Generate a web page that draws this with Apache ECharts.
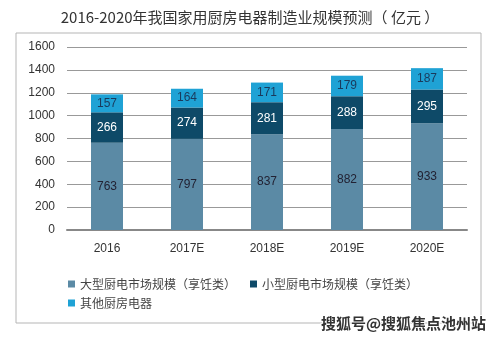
<!DOCTYPE html>
<html><head><meta charset="utf-8">
<script src="https://cdn.jsdelivr.net/npm/echarts@6/dist/echarts.min.js"></script>
<style>html,body{margin:0;padding:0;background:#fff}#c{width:500px;height:339px}</style>
</head><body><div id="c"></div>
<script>
const categories = ['2016','2017E','2018E','2019E','2020E'];
const largeKitchen = [763,797,837,882,933];
const smallKitchen = [266,274,281,288,295];
const otherKitchen = [157,164,171,179,187];
const seriesNames = ['大型厨电市场规模（享饪类）','小型厨电市场规模（享饪类）','其他厨房电器'];
const yTicks = [0,200,400,600,800,1000,1200,1400,1600];

const font = '"Microsoft YaHei","Noto Sans CJK SC",Arial,sans-serif';
const numFont = 'Arial, "Liberation Sans", sans-serif';
const chart = echarts.init(document.getElementById('c'));
const lbl = (color) => ({show:true, position:'inside', color:color, fontSize:12, fontFamily:numFont});
const legendBase = {left:68, itemWidth:7, itemHeight:7, icon:'rect', padding:0,
    textStyle:{fontSize:12, color:'#444', fontFamily:font}};
chart.setOption({
  animation:false,
  title:{text:'2016-2020年我国家用厨房电器制造业规模预测（ 亿元 ）', left:'center', top:5,
    textStyle:{fontSize:15, fontWeight:'normal', color:'#333', fontFamily:font}},
  graphic:[
    {type:'rect', shape:{x:16,y:33,width:465,height:290}, style:{fill:'none', stroke:'#b5b5b5', lineWidth:1}},
    {type:'text', right:13, top:315, style:{text:'搜狐号@搜狐焦点池州站', fontSize:15, fontWeight:'bold', fill:'#333', stroke:'#fff', lineWidth:2, fontFamily:font}}
  ],
  grid:{left:67, right:33, top:47, bottom:109},
  legend:[
    Object.assign({}, legendBase, {top:278, itemGap:14, data:seriesNames.slice(0,2)}),
    Object.assign({}, legendBase, {top:297, data:seriesNames.slice(2)})
  ],
  xAxis:{type:'category', data:categories,
    axisLine:{lineStyle:{color:'#888', width:2}}, axisTick:{show:false},
    axisLabel:{color:'#333', fontSize:12, margin:13, fontFamily:numFont}},
  yAxis:{type:'value', min:yTicks[0], max:yTicks[yTicks.length-1], interval:200,
    axisLine:{show:false}, axisTick:{show:false},
    splitLine:{lineStyle:{color:'#999'}},
    axisLabel:{color:'#333', fontSize:12, margin:12, fontFamily:numFont, formatter:(v)=>String(v)}},
  series:[
    {name:seriesNames[0], type:'bar', stack:'a', barWidth:'40%', data:largeKitchen, itemStyle:{color:'#5b8aa5'}, label:lbl('#223')},
    {name:seriesNames[1], type:'bar', stack:'a', data:smallKitchen, itemStyle:{color:'#0e4a68'}, label:lbl('#fff')},
    {name:seriesNames[2], type:'bar', stack:'a', data:otherKitchen, itemStyle:{color:'#1fa2d5'}, label:lbl('#1a3a5c')}
  ]
});
</script></body></html>
